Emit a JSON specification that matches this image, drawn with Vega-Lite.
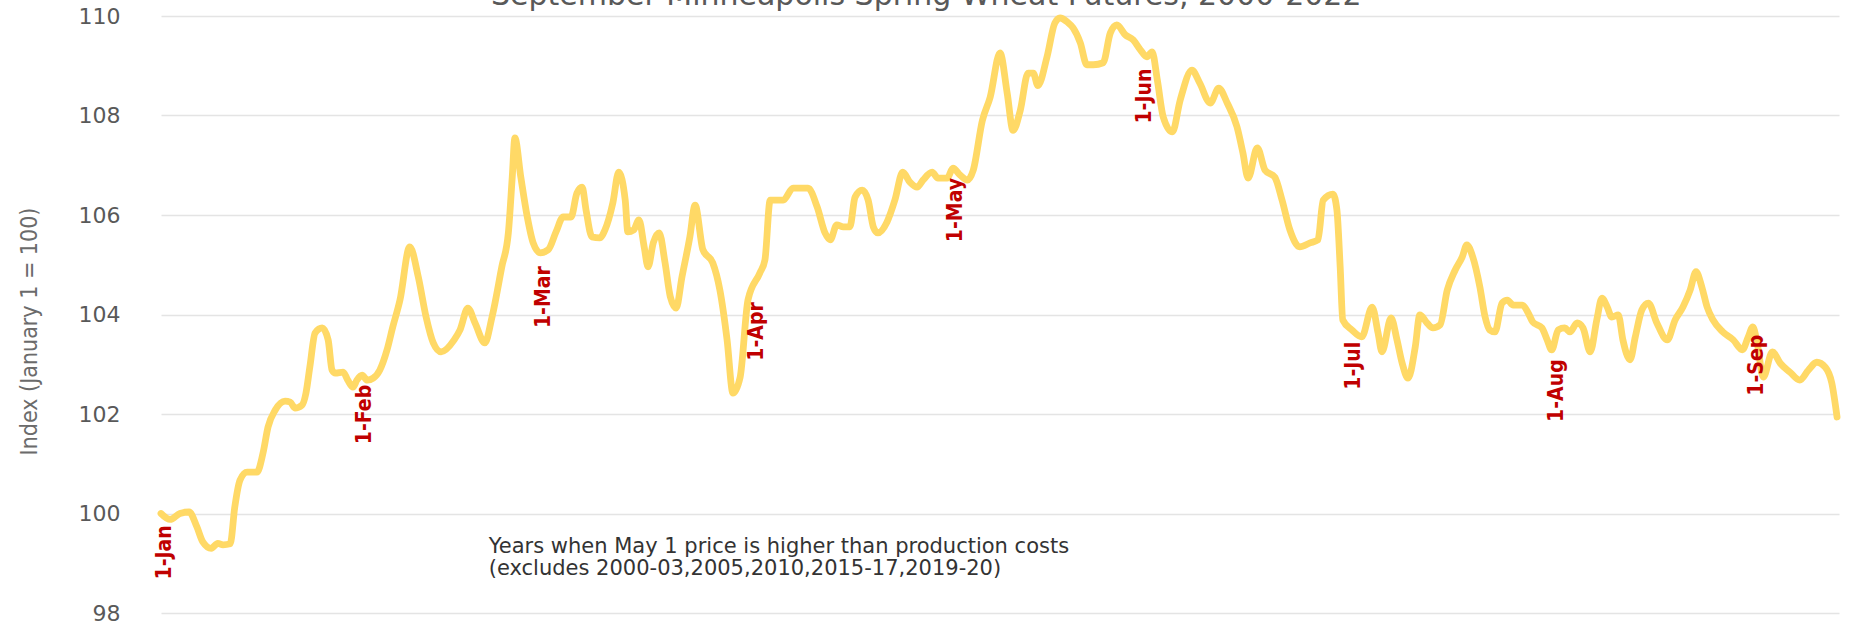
{
  "$schema": "https://vega.github.io/schema/vega-lite/v6.json",
  "width": 1678,
  "height": 597,
  "autosize": {"type": "none"},
  "padding": {"left": 161, "top": 16, "right": 10, "bottom": 14},
  "background": "#ffffff",
  "config": {"view": {"stroke": null}},
  "datasets": {
    "series": [
      {"day": 0, "value": 100.0}, {"day": 1.4, "value": 99.88}, {"day": 2.9, "value": 100.0}, {"day": 4.3, "value": 100.03},
      {"day": 5.5, "value": 99.73}, {"day": 6.4, "value": 99.43}, {"day": 7.7, "value": 99.3}, {"day": 8.7, "value": 99.4},
      {"day": 9.5, "value": 99.37}, {"day": 10.6, "value": 99.39}, {"day": 11.3, "value": 100.13}, {"day": 12.1, "value": 100.67},
      {"day": 13.2, "value": 100.83}, {"day": 14.7, "value": 100.83}, {"day": 15.6, "value": 101.2}, {"day": 16.4, "value": 101.74},
      {"day": 17.5, "value": 102.08}, {"day": 19.0, "value": 102.26}, {"day": 19.8, "value": 102.24}, {"day": 20.5, "value": 102.12},
      {"day": 21.6, "value": 102.18}, {"day": 22.2, "value": 102.42}, {"day": 22.8, "value": 102.95}, {"day": 23.6, "value": 103.63},
      {"day": 24.7, "value": 103.73}, {"day": 25.6, "value": 103.49}, {"day": 26.2, "value": 102.88}, {"day": 26.7, "value": 102.82},
      {"day": 27.9, "value": 102.84}, {"day": 28.6, "value": 102.68}, {"day": 29.4, "value": 102.54}, {"day": 30.0, "value": 102.68},
      {"day": 30.8, "value": 102.78}, {"day": 31.6, "value": 102.68}, {"day": 32.5, "value": 102.72}, {"day": 33.5, "value": 102.88},
      {"day": 34.6, "value": 103.28}, {"day": 35.5, "value": 103.75}, {"day": 36.6, "value": 104.29}, {"day": 38.1, "value": 105.36},
      {"day": 39.4, "value": 104.76}, {"day": 40.6, "value": 103.95}, {"day": 41.7, "value": 103.43}, {"day": 42.9, "value": 103.25},
      {"day": 44.9, "value": 103.49}, {"day": 45.8, "value": 103.69}, {"day": 47.0, "value": 104.13}, {"day": 48.1, "value": 103.83},
      {"day": 49.6, "value": 103.43}, {"day": 50.7, "value": 103.95}, {"day": 52.2, "value": 104.96}, {"day": 53.2, "value": 105.64},
      {"day": 53.8, "value": 106.77}, {"day": 54.2, "value": 107.55}, {"day": 55.1, "value": 106.77}, {"day": 56.1, "value": 105.96},
      {"day": 57.0, "value": 105.44}, {"day": 58.1, "value": 105.24}, {"day": 59.3, "value": 105.3}, {"day": 60.5, "value": 105.66},
      {"day": 61.6, "value": 105.96}, {"day": 62.8, "value": 105.96}, {"day": 63.7, "value": 106.44}, {"day": 64.5, "value": 106.56},
      {"day": 65.1, "value": 106.1}, {"day": 66.0, "value": 105.56}, {"day": 67.2, "value": 105.54}, {"day": 68.0, "value": 105.7},
      {"day": 69.2, "value": 106.24}, {"day": 70.1, "value": 106.86}, {"day": 71.1, "value": 106.3}, {"day": 71.5, "value": 105.66},
      {"day": 72.4, "value": 105.7}, {"day": 73.2, "value": 105.9}, {"day": 74.0, "value": 105.36}, {"day": 74.6, "value": 104.96},
      {"day": 75.4, "value": 105.44}, {"day": 76.3, "value": 105.64}, {"day": 77.2, "value": 105.04}, {"day": 78.0, "value": 104.36},
      {"day": 78.9, "value": 104.13}, {"day": 79.8, "value": 104.76}, {"day": 81.0, "value": 105.56}, {"day": 81.8, "value": 106.2},
      {"day": 83.0, "value": 105.3}, {"day": 84.5, "value": 105.04}, {"day": 85.6, "value": 104.49}, {"day": 86.7, "value": 103.49},
      {"day": 87.6, "value": 102.42}, {"day": 88.7, "value": 102.74}, {"day": 89.9, "value": 104.29}, {"day": 91.7, "value": 104.83},
      {"day": 92.5, "value": 105.1}, {"day": 93.3, "value": 106.3}, {"day": 94.4, "value": 106.3}, {"day": 95.3, "value": 106.3},
      {"day": 96.8, "value": 106.54}, {"day": 99.1, "value": 106.54}, {"day": 100.5, "value": 106.16}, {"day": 101.7, "value": 105.64},
      {"day": 102.5, "value": 105.5}, {"day": 103.5, "value": 105.8}, {"day": 104.5, "value": 105.76}, {"day": 105.5, "value": 105.76},
      {"day": 106.3, "value": 106.36}, {"day": 107.4, "value": 106.5}, {"day": 108.3, "value": 106.3}, {"day": 109.1, "value": 105.76},
      {"day": 109.8, "value": 105.64}, {"day": 111.2, "value": 105.86}, {"day": 112.4, "value": 106.3}, {"day": 113.6, "value": 106.86},
      {"day": 114.7, "value": 106.66}, {"day": 115.8, "value": 106.56}, {"day": 116.7, "value": 106.7}, {"day": 118.1, "value": 106.86},
      {"day": 119.0, "value": 106.74}, {"day": 120.4, "value": 106.74}, {"day": 121.3, "value": 106.94}, {"day": 122.4, "value": 106.8},
      {"day": 123.5, "value": 106.7}, {"day": 124.4, "value": 106.9}, {"day": 125.8, "value": 107.9}, {"day": 127.0, "value": 108.37},
      {"day": 128.5, "value": 109.26}, {"day": 129.6, "value": 108.45}, {"day": 130.5, "value": 107.7}, {"day": 131.6, "value": 108.1},
      {"day": 132.8, "value": 108.85}, {"day": 133.6, "value": 108.85}, {"day": 134.3, "value": 108.6}, {"day": 135.7, "value": 109.18},
      {"day": 136.9, "value": 109.86}, {"day": 137.7, "value": 109.96}, {"day": 138.8, "value": 109.88}, {"day": 139.7, "value": 109.76},
      {"day": 140.8, "value": 109.46}, {"day": 141.8, "value": 109.02}, {"day": 142.8, "value": 109.02}, {"day": 144.3, "value": 109.06},
      {"day": 145.4, "value": 109.66}, {"day": 146.4, "value": 109.82}, {"day": 147.7, "value": 109.62}, {"day": 148.9, "value": 109.52},
      {"day": 150.0, "value": 109.32}, {"day": 151.0, "value": 109.18}, {"day": 151.8, "value": 109.28}, {"day": 152.6, "value": 108.71},
      {"day": 153.5, "value": 107.97}, {"day": 154.9, "value": 107.67}, {"day": 156.1, "value": 108.31}, {"day": 157.9, "value": 108.91},
      {"day": 159.1, "value": 108.65}, {"day": 160.7, "value": 108.25}, {"day": 162.0, "value": 108.55}, {"day": 163.3, "value": 108.25},
      {"day": 164.8, "value": 107.77}, {"day": 165.7, "value": 107.25}, {"day": 166.5, "value": 106.74}, {"day": 167.9, "value": 107.35},
      {"day": 169.1, "value": 106.9}, {"day": 170.6, "value": 106.76}, {"day": 171.7, "value": 106.3}, {"day": 172.9, "value": 105.7},
      {"day": 174.4, "value": 105.36}, {"day": 176.0, "value": 105.44}, {"day": 177.2, "value": 105.5}, {"day": 178.0, "value": 106.3},
      {"day": 179.5, "value": 106.42}, {"day": 180.1, "value": 106.1}, {"day": 180.6, "value": 104.96}, {"day": 181.0, "value": 103.89},
      {"day": 182.4, "value": 103.69}, {"day": 183.9, "value": 103.55}, {"day": 185.5, "value": 104.15}, {"day": 186.4, "value": 103.63},
      {"day": 187.0, "value": 103.25}, {"day": 188.4, "value": 103.93}, {"day": 189.3, "value": 103.49}, {"day": 190.1, "value": 103.02},
      {"day": 191.0, "value": 102.72}, {"day": 192.1, "value": 103.35}, {"day": 192.8, "value": 103.99}, {"day": 193.9, "value": 103.83},
      {"day": 194.8, "value": 103.73}, {"day": 195.9, "value": 103.79}, {"day": 197.0, "value": 104.49}, {"day": 198.2, "value": 104.89},
      {"day": 199.3, "value": 105.16}, {"day": 200.0, "value": 105.4}, {"day": 200.9, "value": 105.16}, {"day": 202.0, "value": 104.55},
      {"day": 202.8, "value": 103.95}, {"day": 203.5, "value": 103.69}, {"day": 204.3, "value": 103.65}, {"day": 205.4, "value": 104.23},
      {"day": 206.2, "value": 104.29}, {"day": 207.1, "value": 104.19}, {"day": 208.5, "value": 104.19}, {"day": 209.4, "value": 104.03},
      {"day": 210.1, "value": 103.85}, {"day": 211.5, "value": 103.73}, {"day": 212.3, "value": 103.49}, {"day": 213.0, "value": 103.29},
      {"day": 214.0, "value": 103.69}, {"day": 215.0, "value": 103.73}, {"day": 215.8, "value": 103.65}, {"day": 216.9, "value": 103.83},
      {"day": 217.8, "value": 103.73}, {"day": 218.9, "value": 103.25}, {"day": 219.9, "value": 103.89}, {"day": 220.7, "value": 104.33},
      {"day": 221.5, "value": 104.15}, {"day": 222.2, "value": 103.95}, {"day": 223.2, "value": 103.99}, {"day": 223.9, "value": 103.49},
      {"day": 225.0, "value": 103.09}, {"day": 225.8, "value": 103.55}, {"day": 226.8, "value": 104.09}, {"day": 227.8, "value": 104.23},
      {"day": 229.1, "value": 103.83}, {"day": 230.7, "value": 103.49}, {"day": 231.9, "value": 103.89}, {"day": 233.1, "value": 104.15},
      {"day": 234.2, "value": 104.49}, {"day": 235.1, "value": 104.86}, {"day": 236.0, "value": 104.55}, {"day": 236.8, "value": 104.15},
      {"day": 237.7, "value": 103.89}, {"day": 239.2, "value": 103.65}, {"day": 240.8, "value": 103.49}, {"day": 242.2, "value": 103.29},
      {"day": 243.1, "value": 103.55}, {"day": 243.8, "value": 103.75}, {"day": 244.5, "value": 103.4}, {"day": 245.4, "value": 102.74},
      {"day": 246.8, "value": 103.25}, {"day": 248.0, "value": 103.02}, {"day": 249.5, "value": 102.84}, {"day": 251.0, "value": 102.68},
      {"day": 252.3, "value": 102.88}, {"day": 253.6, "value": 103.04}, {"day": 254.9, "value": 102.94}, {"day": 255.9, "value": 102.62},
      {"day": 256.7, "value": 101.94}
    ],
    "labels": [
      {"day": 0.6, "value": 99.22, "label": "1-Jan"},
      {"day": 31.2, "value": 101.99, "label": "1-Feb"},
      {"day": 58.7, "value": 104.35, "label": "1-Mar"},
      {"day": 91.3, "value": 103.66, "label": "1-Apr"},
      {"day": 121.8, "value": 106.1, "label": "1-May"},
      {"day": 150.7, "value": 108.39, "label": "1-Jun"},
      {"day": 182.7, "value": 102.97, "label": "1-Jul"},
      {"day": 213.8, "value": 102.47, "label": "1-Aug"},
      {"day": 244.4, "value": 102.98, "label": "1-Sep"}
    ],
    "notes": [
      {"day": 50.2, "value": 99.33, "note": "Years when May 1 price is higher than production costs"},
      {"day": 50.2, "value": 98.89, "note": "(excludes 2000-03,2005,2010,2015-17,2019-20)"}
    ],
    "heading": [
      {"day": 117.2, "value": 110.22, "heading": "September Minneapolis Spring Wheat Futures, 2000-2022"}
    ]
  },
  "encoding": {
    "x": {"field": "day", "type": "quantitative", "scale": {"domain": [0, 257], "nice": false, "zero": false}, "axis": null},
    "y": {
      "field": "value",
      "type": "quantitative",
      "scale": {"domain": [98, 110], "nice": false, "zero": false},
      "axis": {
        "values": [98, 100, 102, 104, 106, 108, 110],
        "grid": true,
        "gridColor": "#E4E4E4",
        "gridWidth": 1.3,
        "domain": false,
        "ticks": false,
        "labelFont": "DejaVu Sans",
        "labelFontSize": 22,
        "labelColor": "#595959",
        "labelPadding": 41,
        "title": "Index (January 1 = 100)",
        "titleFont": "Liberation Sans Narrow, DejaVu Sans Condensed, sans-serif",
        "titleFontSize": 23,
        "titleFontWeight": "normal",
        "titleColor": "#6b6b6b",
        "titleAngle": 270,
        "titleAlign": "center",
        "titleBaseline": "middle",
        "titleX": -132,
        "titleY": 315
      }
    }
  },
  "layer": [
    {
      "data": {"name": "series"},
      "mark": {"type": "line", "color": "#FFD966", "strokeWidth": 6.8, "interpolate": "monotone", "strokeCap": "round", "strokeJoin": "round"}
    },
    {
      "data": {"name": "labels"},
      "mark": {"type": "text", "angle": 270, "align": "center", "baseline": "middle", "font": "Liberation Sans Narrow, DejaVu Sans Condensed, sans-serif", "fontSize": 21, "fontWeight": "bold", "color": "#C00000"},
      "encoding": {"text": {"field": "label"}}
    },
    {
      "data": {"name": "notes"},
      "mark": {"type": "text", "align": "left", "baseline": "middle", "font": "DejaVu Sans", "fontSize": 21, "color": "#333333"},
      "encoding": {"text": {"field": "note"}}
    },
    {
      "data": {"name": "heading"},
      "mark": {"type": "text", "align": "center", "baseline": "alphabetic", "font": "DejaVu Sans", "fontSize": 30, "color": "#595959"},
      "encoding": {"text": {"field": "heading"}}
    }
  ]
}
